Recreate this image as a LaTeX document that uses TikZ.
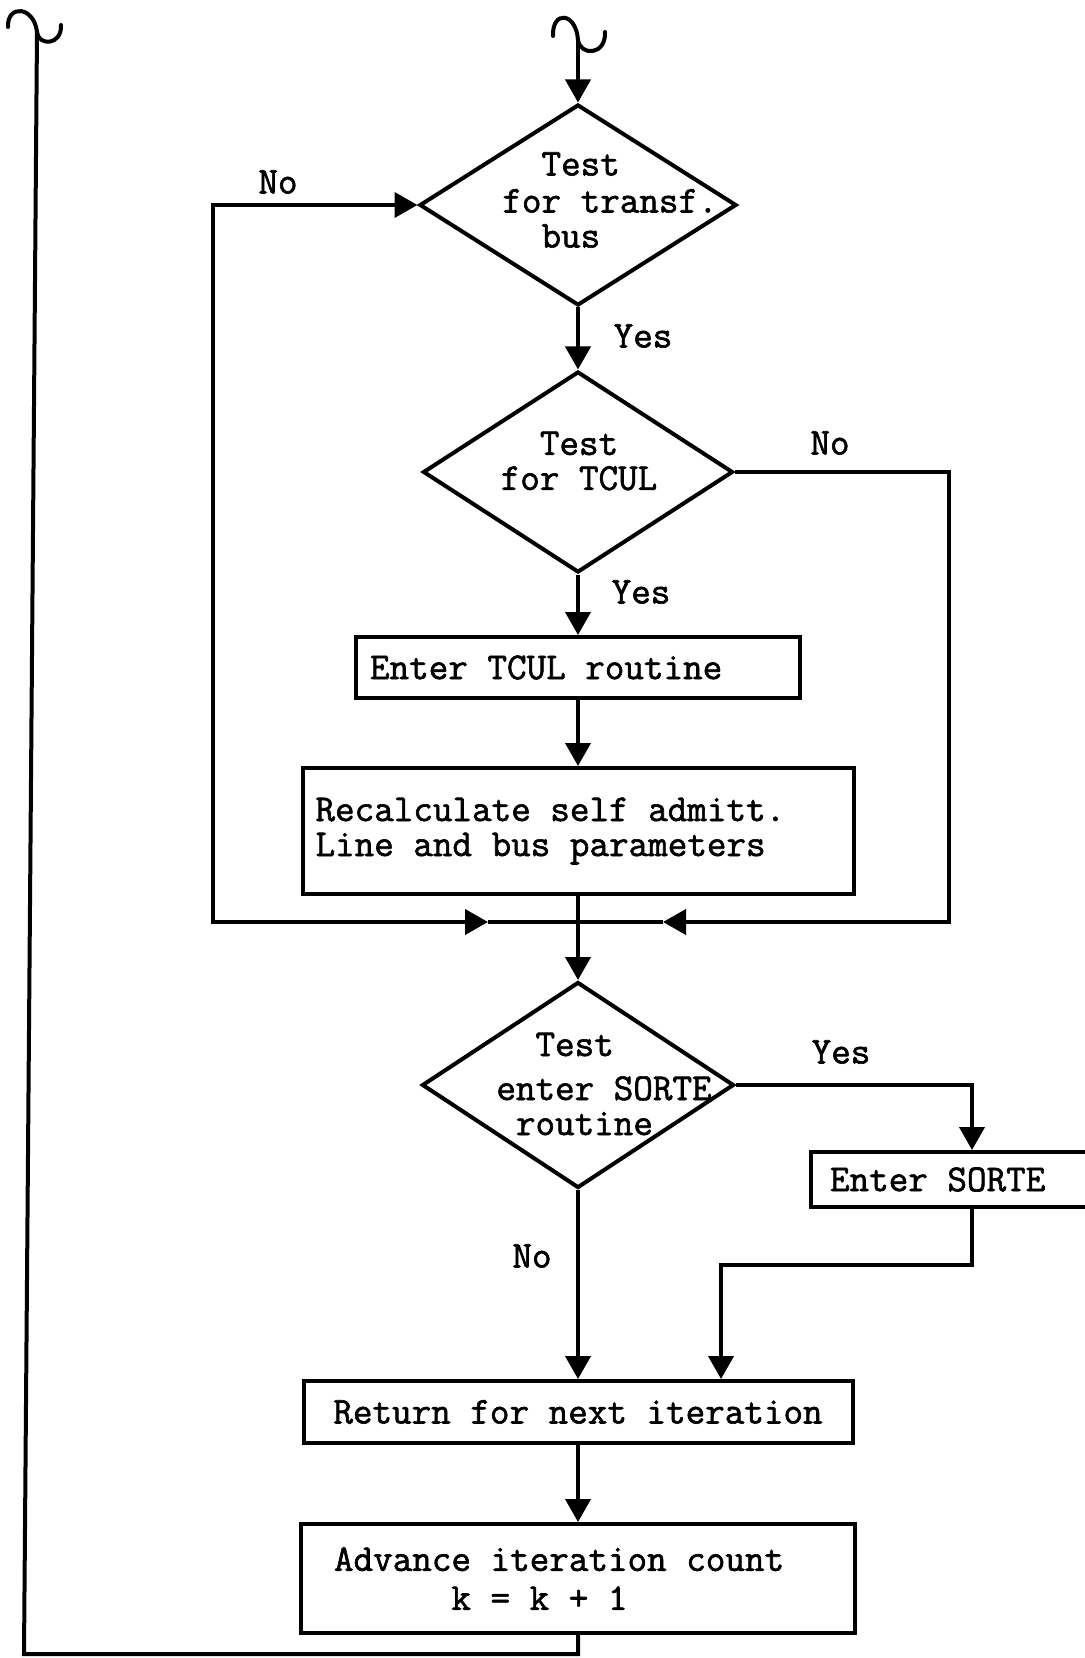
\documentclass[tikz,border=0pt]{standalone}
\usepackage{fontspec}
\newfontfamily\flowfont[FakeBold=1.6, WordSpace={1,0,0}]{Latin Modern Mono}
\usetikzlibrary{arrows.meta, positioning, shapes.geometric}

\begin{document}
\begin{tikzpicture}[x=0.5pt, y=-0.5pt, line width=2pt,
  every node/.style={font=\flowfont\fontsize{19}{17.5}\selectfont},
  flow/.style={-{Triangle[width=12.5pt,length=11.5pt]}},
  flowboth/.style={{Triangle[width=12.5pt,length=11.5pt]}-{Triangle[width=12.5pt,length=11.5pt]}},
  decision/.style={draw, diamond, inner sep=0pt},
  procbox/.style={draw, rectangle, inner ysep=0pt, align=left,
    execute at begin node={\spaceskip=0pt\xspaceskip=0pt\relax}},
  dtext/.style={align=left, inner sep=0pt},
  branch/.style={inner sep=0pt}]
  \useasboundingbox (0,0) rectangle (1085,1658);
  \clip (0,0) rectangle (1085,1658);

  % Test 1
  \node[decision, minimum width=158.5pt, minimum height=100.5pt] (d1) at (578,205) {};
  \node[dtext] (d1txt) at (610,200) {\hphantom{xx}Test\\[1pt]for transf.\\\hphantom{xx}bus};

  % Test 2
  \node[decision, minimum width=155pt, minimum height=100.5pt] (d2) at (578,472) {};
  \node[dtext] (d2txt) at (579,461) {\hphantom{xx}Test\\for TCUL};

  % Box 1
  \node[procbox, text width=208pt, inner xsep=7pt, minimum height=30.5pt] (b1) at (578,667.5)
       {Enter TCUL routine};

  % Box 2
  \node[procbox, text width=262.5pt, inner xsep=6.5pt, minimum height=63pt] (b2) at (578,831)
       {Recalculate self admitt.\\Line and bus parameters};

  % Test 3
  \node[decision, minimum width=156pt, minimum height=103pt] (d3) at (578,1085) {};
  \node[dtext] (d3txt) at (604,1084) {\hphantom{xx}Test\\[4.5pt]enter SORTE\\\hphantom{x}routine};

  % Box 3
  \node[procbox, text width=142pt, inner xsep=9.5pt, minimum height=27.5pt] (b3) at (972,1179.5)
       {Enter SORTE};

  % Box 4
  \node[procbox, minimum width=274.5pt, minimum height=31pt] (b4) at (578,1412)
       {Return for next iteration};

  % Box 5
  \node[procbox, text width=244pt, inner xsep=16.5pt, minimum height=54.5pt] (b5) at (578,1578.5)
       {Advance iteration count\\[2pt]\hphantom{xxxxxx}k = k + 1};

  % Branch labels
  \node[branch] (no1) at (278,182) {No};
  \node[branch] (yes1) at (643,336) {Yes};
  \node[branch] (no2) at (830,443) {No};
  \node[branch] (yes2) at (641,592) {Yes};
  \node[branch] (yes3) at (841,1052) {Yes};
  \node[branch] (no3) at (532,1256) {No};

  % Entry
  \coordinate (tin) at (578,40);
  \draw[line cap=round] (553,36) .. controls (552,10) and (576,12) .. (tin)
       .. controls (580,56) and (606,56) .. (605,32);
  \draw[flow] (tin) -- (d1.north);

  % Main column
  \draw[flow] (d1.south) -- (d2.north);
  \draw[flow] (d2.south) -- (b1.north);
  \draw[flow] (b1.south) -- (b2.north);
  \coordinate (jn) at (578,922);
  \draw (b2.south) -- (jn);
  \draw[flow] (jn) -- (d3.north);

  % No loops
  \coordinate (lc) at (213,922);
  \coordinate (ltip) at (488,922);
  \draw[flowboth] (d1.west) -| (lc) -- (ltip);
  \draw (ltip) -- (jn);
  \coordinate (rc) at (949,922);
  \coordinate (rtip) at (663,922);
  \draw[flow] (d2.east) -| (rc) -- (rtip);
  \draw (rtip) -- (jn);

  % SORTE branch
  \draw[flow] (d3.east) -| (b3.north);
  \coordinate (sc) at (721,1265);
  \draw[flow] (b3.south) |- (sc) -- (sc |- b4.north);
  \draw[flow] (d3.south) -- (b4.north);
  \draw[flow] (b4.south) -- (b5.north);

  % Back to start
  \coordinate (lbot) at (24,1654);
  \coordinate (ltop) at (37,32);
  \draw (b5.south) |- (lbot) -- (ltop);
  \draw[line cap=round] (8,27) .. controls (7,4) and (34,6) .. (ltop)
       .. controls (38,46) and (62,46) .. (61,25);
\end{tikzpicture}
\end{document}
